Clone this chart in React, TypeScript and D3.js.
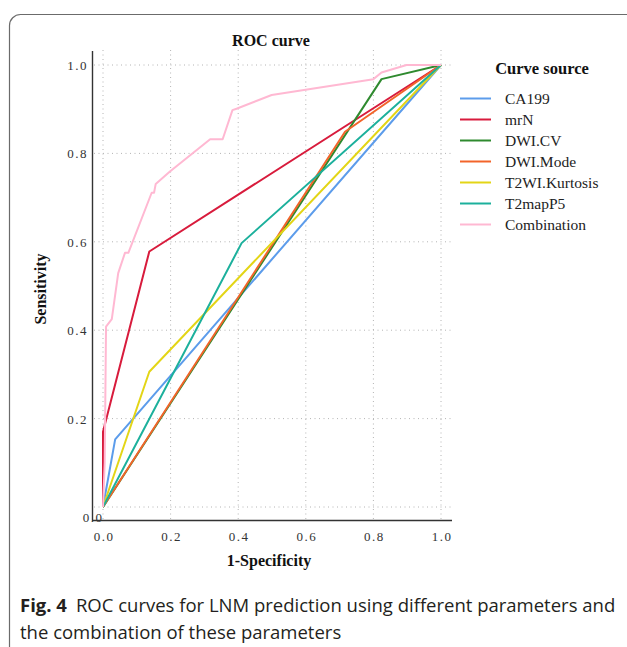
import { useEffect, useRef } from 'react'
import * as d3 from 'd3'

const SERIES = ['CA199', 'mrN', 'DWI.CV', 'DWI.Mode', 'T2WI.Kurtosis', 'T2mapP5', 'Combination']
const COLORS = ['#5c9ceb', '#d81b3c', '#2f8a2f', '#f2642a', '#e3d516', '#1cb09c', '#ffb8d2']

// [1-specificity, sensitivity]
const CA199 = [[0, 0], [0.036, 0.153], [1, 1]]
const MRN = [[0, 0], [0, 0.17], [0.137, 0.578], [1, 1]]
const DWI_CV = [[0, 0], [0.824, 0.968], [1, 1]]
const DWI_MODE = [[0, 0], [0.716, 0.849], [1, 1]]
const T2WI_KURT = [[0, 0], [0.137, 0.306], [1, 1]]
const T2MAP_P5 = [[0, 0], [0.41, 0.597], [1, 1]]
const COMBINATION = [
  [0, 0], [0.005, 0.1], [0.009, 0.408], [0.026, 0.425], [0.045, 0.529], [0.065, 0.575],
  [0.075, 0.575], [0.144, 0.711], [0.151, 0.711], [0.156, 0.731], [0.198, 0.759],
  [0.317, 0.832], [0.354, 0.832], [0.383, 0.898], [0.395, 0.901], [0.499, 0.932],
  [0.8, 0.968], [0.824, 0.983], [0.898, 1], [1, 1],
]
const CURVES = [CA199, MRN, DWI_CV, DWI_MODE, T2WI_KURT, T2MAP_P5, COMBINATION]
const TICKS = [0, 0.2, 0.4, 0.6, 0.8, 1.0]

export default function App() {
  const svgRef = useRef<SVGSVGElement>(null)

  useEffect(() => {
    if (!svgRef.current) return
    const W = 627, H = 647
    const svg = d3.select(svgRef.current).attr('width', W).attr('height', H)
    svg.selectAll('*').remove()

    const x = d3.scaleLinear().domain([0, 1]).range([103, 441])
    const y = d3.scaleLinear().domain([0, 1]).range([507, 65])
    const serif = '"Liberation Serif", "Times New Roman", serif'

    // frame
    svg.append('rect').attr('x', 9.5).attr('y', 14.5).attr('width', 660).attr('height', 660)
      .attr('rx', 11).attr('fill', 'none').attr('stroke', '#6b6b6b').attr('stroke-width', 1.2)

    // grid
    const grid = svg.append('g').attr('stroke', '#b4b4b4').attr('stroke-width', 1).attr('stroke-dasharray', '1,3.5')
    TICKS.forEach(t => {
      grid.append('line').attr('x1', x(t)).attr('x2', x(t)).attr('y1', 50).attr('y2', 519)
      grid.append('line').attr('x1', 94).attr('x2', 451).attr('y1', y(t)).attr('y2', y(t))
    })

    // curves
    const line = d3.line<number[]>().x(d => x(d[0])).y(d => y(d[1]))
    CURVES.forEach((c, i) => {
      svg.append('path').attr('d', line(c) ?? '').attr('fill', 'none')
        .attr('stroke', COLORS[i]).attr('stroke-width', 2).attr('stroke-linejoin', 'round')
    })

    // axes
    svg.append('line').attr('x1', 92.5).attr('x2', 92.5).attr('y1', 51).attr('y2', 520.5)
      .attr('stroke', '#333').attr('stroke-width', 1.4)
    svg.append('line').attr('x1', 92).attr('x2', 452).attr('y1', 520.5).attr('y2', 520.5)
      .attr('stroke', '#333').attr('stroke-width', 1.4)

    const fmt = d3.format('.1f')
    TICKS.forEach(t => {
      svg.append('text').attr('x', x(t) + 1).attr('y', 541).attr('text-anchor', 'middle')
        .attr('font-family', serif).attr('font-size', 13).attr('letter-spacing', 1.5).attr('fill', '#333')
        .text(fmt(t))
      if (t > 0) {
        svg.append('text').attr('x', 88).attr('y', y(t) + 5).attr('text-anchor', 'end')
          .attr('font-family', serif).attr('font-size', 13).attr('letter-spacing', 1.5).attr('fill', '#333')
          .text(fmt(t))
      }
    })
    // y "0.0" sits on the axis corner
    svg.append('text').attr('x', 93).attr('y', 522).attr('text-anchor', 'middle')
      .attr('font-family', serif).attr('font-size', 13).attr('letter-spacing', 1.5).attr('fill', '#333')
      .text(fmt(0))

    // titles
    svg.append('text').attr('x', 271).attr('y', 46).attr('text-anchor', 'middle')
      .attr('font-family', serif).attr('font-size', 16).attr('font-weight', 'bold').attr('fill', '#111')
      .text('ROC curve')
    svg.append('text').attr('x', 269).attr('y', 566).attr('text-anchor', 'middle')
      .attr('font-family', serif).attr('font-size', 16).attr('font-weight', 'bold').attr('fill', '#111')
      .text('1-Specificity')
    svg.append('text').attr('transform', 'translate(46,289) rotate(-90)').attr('text-anchor', 'middle')
      .attr('font-family', serif).attr('font-size', 16).attr('font-weight', 'bold').attr('fill', '#111')
      .text('Sensitivity')

    // legend
    svg.append('text').attr('x', 542).attr('y', 74).attr('text-anchor', 'middle')
      .attr('font-family', serif).attr('font-size', 16.5).attr('font-weight', 'bold').attr('fill', '#111')
      .text('Curve source')
    SERIES.forEach((s, i) => {
      const ry = 98.5 + i * 21
      svg.append('line').attr('x1', 460).attr('x2', 491).attr('y1', ry).attr('y2', ry)
        .attr('stroke', COLORS[i]).attr('stroke-width', 2)
      svg.append('text').attr('x', 505).attr('y', ry + 5.5)
        .attr('font-family', serif).attr('font-size', 15.5).attr('fill', '#222').text(s)
    })

    // caption
    const sans = '"Open Sans", "Noto Sans", sans-serif'
    const cap = svg.append('text').attr('x', 20).attr('y', 612)
      .attr('font-family', sans).attr('font-size', 18.5).attr('fill', '#231f20')
    cap.append('tspan').attr('font-weight', 'bold').text('Fig. 4')
    cap.append('tspan').attr('dx', 9).text('ROC curves for LNM prediction using different parameters and')
    svg.append('text').attr('x', 20).attr('y', 639)
      .attr('font-family', sans).attr('font-size', 18.5).attr('fill', '#231f20')
      .text('the combination of these parameters')
  }, [])

  return (
    <svg ref={svgRef} style={{ position: 'absolute', left: 0, top: 0, background: '#fff' }} />
  )
}
